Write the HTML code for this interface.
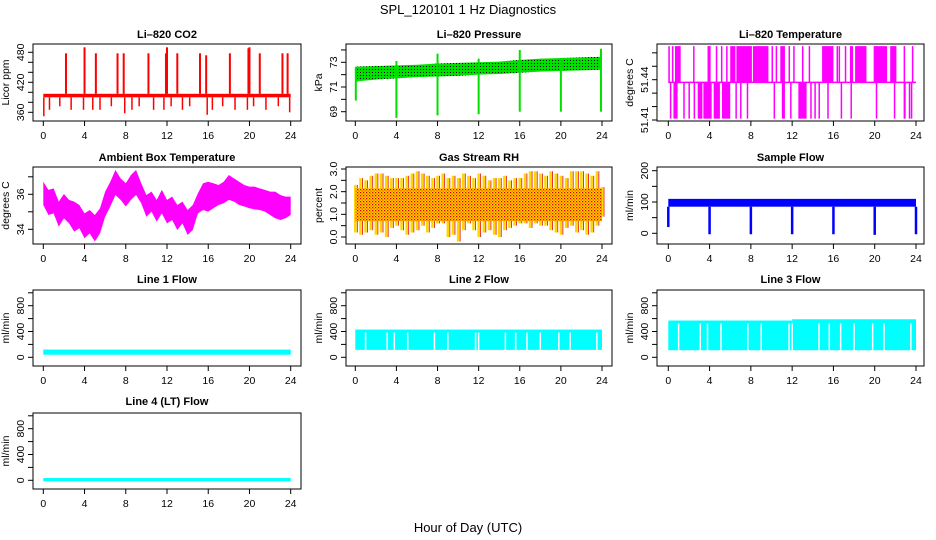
<!DOCTYPE html>
<html><head><meta charset="utf-8"><style>
body{margin:0;background:#fff;}
svg{display:block;font-family:"Liberation Sans",sans-serif;}
</style></head><body>
<svg id="chart" width="936" height="540" viewBox="0 0 936 540">
<defs>
<pattern id="dotsBlack" width="3" height="3" patternUnits="userSpaceOnUse"><rect width="3" height="3" fill="#00e000"/><rect width="1" height="1" fill="#000"/></pattern>
<pattern id="dotsRed" width="3" height="3" patternUnits="userSpaceOnUse"><rect width="3" height="3" fill="#ffd700"/><rect width="1.3" height="1.3" fill="#e00000"/><rect x="1.5" y="1.5" width="1.2" height="1.2" fill="#ff3000"/></pattern>
</defs>
<text x="468" y="14" text-anchor="middle" font-size="13">SPL_120101  1 Hz Diagnostics</text>
<text x="468" y="532" text-anchor="middle" font-size="13">Hour of Day (UTC)</text>
</svg>
<script>
// ---- data arrays ----
const hourTicks=[0,4,8,12,16,20,24];
const co2Base=[390,397];
const co2UpTimes=[2.2,4.0,5.1,7.2,7.8,10.2,11.9,12.0,13.0,15.2,15.8,18.1,19.9,20.0,21.0,23.2,23.7];
const co2UpVals=[478,490,478,478,478,478,478,490,478,478,474,478,488,490,478,478,478];
const co2DnTimes=[0.05,0.6,1.6,2.7,3.9,4.8,5.5,6.6,7.9,8.6,9.3,10.7,11.7,12.4,13.5,14.2,15.9,16.4,17.4,18.6,19.8,20.4,21.6,22.8,23.9];
const co2DnVals=[352,365,372,365,365,365,365,372,358,365,372,365,365,372,365,372,355,365,372,365,365,372,365,372,360];
const presHours=[0,2,4,6,8,10,12,14,16,18,20,22,24];
const presHigh=[72.65,72.7,72.75,72.8,72.9,72.95,73.0,73.05,73.2,73.3,73.35,73.4,73.45];
const presLow=[71.45,71.6,71.7,71.8,71.85,71.9,72.0,72.05,72.15,72.25,72.3,72.35,72.4];
const presDipTimes=[0.05,4,8,12,16,20,23.9];
const presDipMin=[69.9,68.5,68.7,68.8,69.0,69.0,69.0];
const presDipMax=[72.6,73.1,73.7,73.3,74.0,73.3,74.1];
const ltMid=51.438, ltHigh=51.465, ltLow=51.411;
const ltUp=[[0,0.15],[0.35,0.4],[0.65,1.2],[2.4,2.45],[3.8,4.1],[4.6,4.65],[5.1,5.15],[5.6,5.65],[6.0,6.5],[6.6,8.1],[8.2,9.7],[10.0,10.05],[10.4,10.45],[10.85,11.3],[11.65,11.7],[12.1,12.15],[12.95,13.0],[13.6,13.65],[14.9,16.0],[16.3,16.35],[16.5,16.55],[17.1,17.15],[17.6,17.9],[18.1,19.2],[19.9,21.2],[21.5,22.1],[22.8,22.85],[23.6,23.65]];
const ltDown=[[0.15,0.2],[0.5,0.9],[1.45,1.5],[1.95,2.0],[2.45,2.5],[2.85,3.3],[3.4,4.2],[4.4,5.0],[5.2,6.0],[6.5,6.55],[6.95,7.0],[7.6,7.65],[10.2,10.25],[11.0,11.3],[11.8,11.85],[12.6,13.4],[13.75,13.8],[14.15,14.2],[14.55,14.6],[15.4,15.45],[16.7,16.75],[17.65,17.7],[20.1,20.15],[21.85,21.9],[22.8,23.0],[23.3,23.35],[23.5,23.55]];
const halfHours=[0,0.5,1,1.5,2,2.5,3,3.5,4,4.5,5,5.5,6,6.5,7,7.5,8,8.5,9,9.5,10,10.5,11,11.5,12,12.5,13,13.5,14,14.5,15,15.5,16,16.5,17,17.5,18,18.5,19,19.5,20,20.5,21,21.5,22,22.5,23,23.5,24];
const ambHigh=[36.72,36.25,36.34,35.58,36.02,35.68,35.58,35.39,34.91,35.10,34.82,35.20,36.15,36.72,37.39,36.91,36.63,37.10,37.39,36.63,35.96,36.15,35.68,36.25,35.68,35.87,35.39,35.58,35.10,35.39,36.06,36.63,36.72,36.63,36.53,36.72,37.10,36.91,36.72,36.53,36.44,36.44,36.34,36.25,36.15,36.15,35.96,35.87,35.87];
const ambLow=[35.39,34.82,34.91,34.15,34.63,34.34,33.87,34.06,33.49,33.77,33.30,33.77,34.72,35.30,35.96,35.68,35.30,35.68,35.96,35.49,34.72,35.01,34.44,34.91,34.34,34.53,33.96,34.34,33.68,33.96,34.91,35.10,35.01,35.20,35.39,35.49,35.68,35.58,35.39,35.30,35.20,35.14,35.10,35.01,34.82,34.63,34.53,34.63,34.82];
const rhHigh=[2.3,2.6,2.5,2.7,2.8,2.8,2.7,2.6,2.6,2.6,2.7,2.8,2.9,2.8,2.7,2.6,2.7,2.8,2.6,2.7,2.6,2.8,2.7,2.6,2.8,2.7,2.5,2.6,2.6,2.7,2.5,2.6,2.6,2.8,2.9,2.9,2.8,2.7,2.9,2.8,2.7,2.6,2.9,2.9,2.9,2.8,2.7,2.9,2.2];
const rhLow=[0.2,0.1,0.2,0.3,0.1,0.2,0.0,0.4,0.5,0.3,0.1,0.2,0.3,0.5,0.2,0.4,0.6,0.6,0.0,0.1,-0.2,0.3,0.6,0.3,0.0,0.2,0.3,0.1,0.0,0.3,0.4,0.5,0.6,0.6,0.4,0.6,0.5,0.5,0.3,0.2,0.1,0.4,0.5,0.2,0.3,0.1,0.2,0.5,0.9];
const rhCore=[0.7,2.15];
const sfBand=[85,110];
const sfDipTimes=[0,4,8,12,16,20,24];
const sfDipMin=[20,-3,-3,-3,-3,-5,-3];
const l1Band=[40,120];
const l2Band=[115,430];
const l3BandA=[110,570];
const l3BandB=[110,590];
const l4Band=[-15,35];
const flowGaps=[1.0,3.1,3.8,5.1,7.7,9.0,11.7,12.0,14.6,15.6,16.7,18.0,19.8,20.9,23.5];

// ---- layout ----
const svg=document.getElementById('chart');
const NS='http://www.w3.org/2000/svg';
const cols=[{bl:33,br:301,x0:43.3,x24:290.7},{bl:346,br:612,x0:355.3,x24:602},{bl:657,br:924,x0:668.3,x24:916}];
const rows=[{top:44,bot:121,ty:38},{top:167,bot:244,ty:161},{top:290,bot:366,ty:283},{top:413,bot:489,ty:405}];
function el(tag,attrs,parent){const e=document.createElementNS(NS,tag);for(const k in attrs)e.setAttribute(k,attrs[k]);(parent||svg).appendChild(e);return e;}

function panel(name,c,r,title,ylab,vA,pA,vB,pB,ticks,labels){
  const C=cols[c],R=rows[r];
  const g=el('g',{});
  
  
  const sx=h=>C.x0+(C.x24-C.x0)*h/24;
  const sy=v=>pA+(v-vA)*(pB-pA)/(vB-vA);
  const clip=el('clipPath',{id:'clip-'+name},g);
  el('rect',{x:C.bl,y:R.top,width:C.br-C.bl,height:R.bot-R.top},clip);
  const plot=el('g',{'clip-path':'url(#clip-'+name+')'},g);
  
  
  const box=el('rect',{x:C.bl,y:R.top,width:C.br-C.bl,height:R.bot-R.top,fill:'none',stroke:'#000','stroke-width':1},g);
  
  
  const t=el('text',{x:(C.bl+C.br)/2,y:R.ty,'text-anchor':'middle','font-size':11,'font-weight':'bold'},g);
  t.textContent=title;
  
  
  const xa=el('g',{},g);
  
  
  el('line',{x1:sx(0),x2:sx(24),y1:R.bot,y2:R.bot,stroke:'#000'},xa);
  hourTicks.forEach(h=>{
    el('line',{x1:sx(h),x2:sx(h),y1:R.bot,y2:R.bot+5,stroke:'#000'},xa);
    const tx=el('text',{x:sx(h),y:R.bot+18,'text-anchor':'middle','font-size':10.5},xa);tx.textContent=h;
  });
  const ya=el('g',{},g);
  
  
  el('line',{x1:C.bl,x2:C.bl,y1:sy(ticks[0]),y2:sy(ticks[ticks.length-1]),stroke:'#000'},ya);
  ticks.forEach(v=>el('line',{x1:C.bl-5,x2:C.bl,y1:sy(v),y2:sy(v),stroke:'#000'},ya));
  labels.forEach(l=>{
    const y=sy(l[0]);
    const tx=el('text',{x:C.bl-9,y:y,'text-anchor':'middle','font-size':10.5,transform:'rotate(-90 '+(C.bl-9)+' '+y+')'},ya);
    tx.textContent=l[1];
  });
  const yl=el('text',{x:C.bl-24,y:(R.top+R.bot)/2,'text-anchor':'middle','font-size':10.5,transform:'rotate(-90 '+(C.bl-24)+' '+((R.top+R.bot)/2)+')'},g);
  yl.textContent=ylab;
  
  
  return {sx,sy,plot};
}
function vline(p,x,y1,y2,col,w){el('line',{x1:x,x2:x,y1:y1,y2:y2,stroke:col,'stroke-width':w||1.5},p);}
function band(p,sx,sy,lo,hi,h0,h1,fill){const a=sx(h0),b=sx(h1),y1=sy(hi),y2=sy(lo);el('rect',{x:a,y:Math.min(y1,y2),width:b-a,height:Math.abs(y2-y1),fill:fill},p);}

(function(){
  const P=panel('co2',0,0,'Li\u2013820 CO2','Licor ppm',360,112.3,480,52.3,[360,380,400,420,440,460,480],[[360,'360'],[420,'420'],[480,'480']]);
  band(P.plot,P.sx,P.sy,co2Base[0],co2Base[1],0,24,'#ff0000');
  co2UpTimes.forEach((t,i)=>vline(P.plot,P.sx(t),P.sy(co2Base[1]),P.sy(co2UpVals[i]),'#ff0000',2));
  co2DnTimes.forEach((t,i)=>vline(P.plot,P.sx(t),P.sy(co2Base[0]),P.sy(co2DnVals[i]),'#ff0000',1.5));
})();
(function(){
  const P=panel('pressure',1,0,'Li\u2013820 Pressure','kPa',69,111.7,73,62.3,[69,70,71,72,73,74],[[69,'69'],[71,'71'],[73,'73']]);
  let pts=presHours.map((h,i)=>P.sx(h)+','+P.sy(presHigh[i]));
  pts=pts.concat(presHours.slice().reverse().map((h,i)=>P.sx(h)+','+P.sy(presLow[presHours.length-1-i])));
  el('polygon',{points:pts.join(' '),fill:'url(#dotsBlack)'},P.plot);
  presDipTimes.forEach((t,i)=>vline(P.plot,P.sx(t),P.sy(presDipMax[i]),P.sy(presDipMin[i]),'#00e000',2));
})();
(function(){
  const P=panel('licor-temp',2,0,'Li\u2013820 Temperature','degrees C',51.41,120,51.44,79.7,[51.41,51.42,51.43,51.44,51.45,51.46],[[51.41,'51.41'],[51.44,'51.44']]);
  ltUp.forEach(s=>{const a=P.sx(s[0]),b=P.sx(s[1]);el('rect',{x:a,y:P.sy(ltHigh),width:Math.max(1.5,b-a),height:P.sy(ltMid)-P.sy(ltHigh),fill:'#ff00ff'},P.plot);});
  ltDown.forEach(s=>{const a=P.sx(s[0]),b=P.sx(s[1]);el('rect',{x:a,y:P.sy(ltMid),width:Math.max(1.5,b-a),height:P.sy(ltLow)-P.sy(ltMid),fill:'#ff00ff'},P.plot);});
  el('line',{x1:P.sx(0),x2:P.sx(24),y1:P.sy(ltMid),y2:P.sy(ltMid),stroke:'#ff00ff','stroke-width':1.5},P.plot);
})();
(function(){
  const P=panel('ambient-temp',0,1,'Ambient Box Temperature','degrees C',34,229.3,36,194.3,[34,35,36,37],[[34,'34'],[36,'36']]);
  let pts=halfHours.map((h,i)=>P.sx(h)+','+P.sy(ambHigh[i]));
  pts=pts.concat(halfHours.map((h,i)=>i).reverse().map(i=>P.sx(halfHours[i])+','+P.sy(ambLow[i])));
  el('polygon',{points:pts.join(' '),fill:'#ff00ff'},P.plot);
})();
(function(){
  const P=panel('gas-rh',1,1,'Gas Stream RH','percent',0,237,3,169,[0,0.5,1,1.5,2,2.5,3],[[0,'0.0'],[1,'1.0'],[2,'2.0'],[3,'3.0']]);
  halfHours.forEach((h,i)=>{vline(P.plot,P.sx(h),P.sy(rhLow[i]),P.sy(rhHigh[i]),'#ffd700',2.5);vline(P.plot,P.sx(h)+2,P.sy(rhLow[i]),P.sy(rhHigh[i]),'#e00000',0.8);});
  band(P.plot,P.sx,P.sy,rhCore[0],rhCore[1],0,24,'url(#dotsRed)');
})();
(function(){
  const P=panel('sample-flow',2,1,'Sample Flow','ml/min',0,233.3,200,170.7,[0,50,100,150,200],[[0,'0'],[100,'100'],[200,'200']]);
  band(P.plot,P.sx,P.sy,sfBand[0],sfBand[1],0,24,'#0000ff');
  sfDipTimes.forEach((t,i)=>vline(P.plot,P.sx(t),P.sy(sfBand[0]),P.sy(sfDipMin[i]),'#0000ff',2.5));
})();
const flowTicks=[0,200,400,600,800,1000];
const flowLabels=[[0,'0'],[400,'400'],[800,'800']];
function gaps(P,lo,hi){flowGaps.forEach(t=>vline(P.plot,P.sx(t),P.sy(hi)+3,P.sy(lo),'#fff',1.5));}
(function(){
  const P=panel('line1-flow',0,2,'Line 1 Flow','ml/min',0,357.3,800,305.7,flowTicks,flowLabels);
  band(P.plot,P.sx,P.sy,l1Band[0],l1Band[1],0,24,'#00ffff');
})();
(function(){
  const P=panel('line2-flow',1,2,'Line 2 Flow','ml/min',0,357.3,800,305.7,flowTicks,flowLabels);
  band(P.plot,P.sx,P.sy,l2Band[0],l2Band[1],0,24,'#00ffff');gaps(P,l2Band[0],l2Band[1]);
})();
(function(){
  const P=panel('line3-flow',2,2,'Line 3 Flow','ml/min',0,357.3,800,305.7,flowTicks,flowLabels);
  band(P.plot,P.sx,P.sy,l3BandA[0],l3BandA[1],0,12,'#00ffff');
  band(P.plot,P.sx,P.sy,l3BandB[0],l3BandB[1],12,24,'#00ffff');gaps(P,l3BandA[0],l3BandA[1]);
})();
(function(){
  const P=panel('line4-flow',0,3,'Line 4 (LT) Flow','ml/min',0,480.3,800,428.7,flowTicks,flowLabels);
  band(P.plot,P.sx,P.sy,l4Band[0],l4Band[1],0,24,'#00ffff');
})();
</script>
</body></html>
